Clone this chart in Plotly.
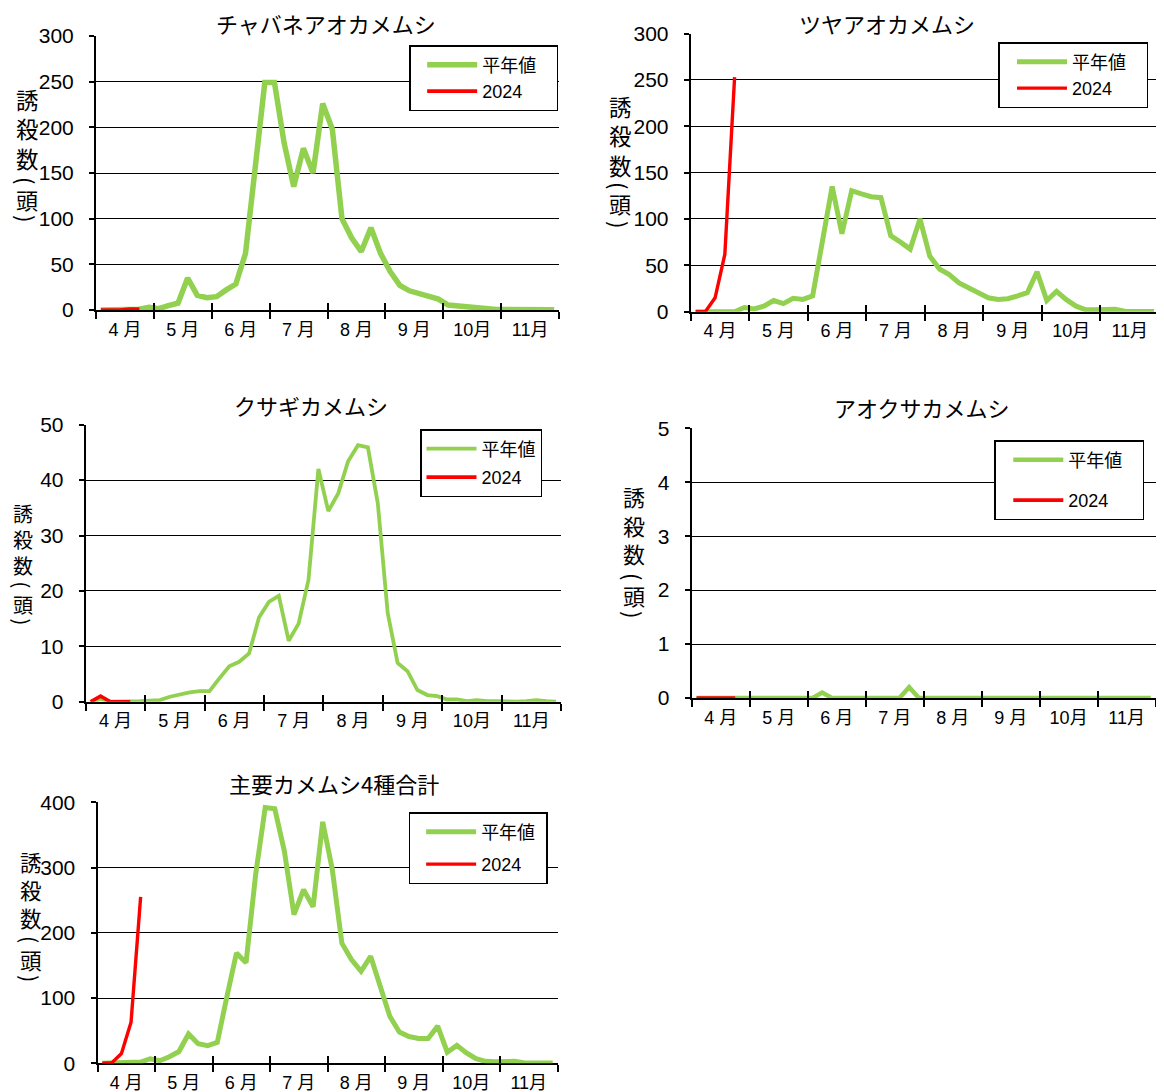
import plotly.graph_objects as go

W, H = 1164, 1092          # browser window
OFF = 8                    # page body margin
FW, FH = W - OFF, H - OFF  # figure size so the figure ends at the window edge

# 半旬 (5-day period) index: 1 = 4月第1半旬 ... 48 = 11月第6半旬
periods = list(range(1, 49))
month_labels = ["4 月", "5 月", "6 月", "7 月", "8 月", "9 月", "10月", "11月"]

# ---------------- data ----------------
chabane_avg = [0, 0.2, 0.3, 0.5, 0.8, 3, 1.5, 4.7, 7.5, 35,
               16, 13.5, 14.6, 22, 28.5, 62, 150, 249, 249, 183,
               135, 177, 150, 226, 198, 100, 79, 64, 90, 62,
               42, 27, 21, 18, 16.5, 12, 5.5, 4.4, 3, 1.5,
               0.8, 0.5, 0.5, 0.5, 0.3, 0.3, 0.2, 0.2]
chabane_2024 = [0, 0, 0, 1, 1]

tsuya_avg = [0, 0, 0, 0, 0, 4.5, 3, 6, 12, 8.7,
             14.4, 13.3, 17, 76, 135, 84, 130.5, 127, 124, 123,
             82, 75, 67.5, 100, 60, 46, 40, 31, 26, 20,
             15, 13.3, 14, 17, 20.5, 43, 12, 22, 13, 6,
             2, 2, 2, 2.5, 0.5, 0.3, 0.3, 0.3]
tsuya_2024 = [0, 0, 15, 62, 253]

kusagi_avg = [0, 0.5, 0, 0, 0, 0.1, 0.2, 0.3, 0.9, 1.3,
              1.7, 1.9, 1.9, 4.2, 6.4, 7.2, 8.7, 15.2, 18, 19.1,
              11, 14.1, 22, 42, 34.4, 37.6, 43.4, 46.3, 45.9, 35.8,
              16, 7, 5.5, 2.1, 1.2, 1, 0.4, 0.4, 0.1, 0.3,
              0.1, 0.1, 0, 0, 0.1, 0.3, 0.1, 0]
kusagi_2024 = [0, 1, 0, 0, 0]

aokusa_avg = [0, 0, 0, 0, 0, 0, 0, 0, 0, 0,
              0, 0, 0, 0.1, 0, 0, 0, 0, 0, 0,
              0, 0, 0.2, 0, 0, 0, 0, 0, 0, 0,
              0, 0, 0, 0, 0, 0, 0, 0, 0, 0,
              0, 0, 0, 0, 0, 0, 0, 0]
aokusa_2024 = [0, 0, 0, 0, 0]

total_avg = [0, 0.3, 0.5, 1, 2, 7, 4, 10, 18, 45,
             30, 27, 32, 102, 169, 154, 289, 392, 390, 325,
             228, 266, 240, 370, 297, 184, 159, 141, 164, 118,
             72, 48, 41, 38, 38, 57, 17, 27.5, 16, 7,
             3, 2.5, 2.5, 3, 1, 0.5, 0.5, 0.5]
total_2024 = [0, 1, 15, 63, 255]

titles = ["チャバネアオカメムシ", "ツヤアオカメムシ", "クサギカメムシ",
          "アオクサカメムシ", "主要カメムシ4種合計"]
y_ranges = [[0, 300], [0, 300], [0, 50], [0, 5], [0, 400]]
y_dticks = [50, 50, 10, 1, 100]
avg_name = "平年値"
cur_name = "2024"
ytitle_main = "誘<br>殺<br>数"
ytitle_parts = ["(", "頭", ")"]

# ---------------- layout helpers ----------------
GREEN = "#92D050"
RED = "#FF0000"
NUM_FONT = "Liberation Sans, Arial, Noto Sans CJK JP"
JP_FONT = "Noto Sans CJK JP, Liberation Sans"

# plot boxes in window pixels: (left, right, top, bottom)
boxes = [(96, 559, 36, 310), (690.7, 1159, 33.5, 311.7), (85.7, 561, 424.7, 701.7),
         (691.7, 1155.6, 428.3, 698), (97.5, 557.5, 802.3, 1063.3)]
title_pos = [(326, 22.5), (887, 23), (311, 405), (922, 407), (334, 783)]
legend_pos = [(409, 45), (998, 42), (420, 429), (994, 440), (408.5, 812)]
legend_gap = [0, 0, 2, 14, 6]
legend_pad = [3, 3, 0, 3, 1]
legend_lpad = [6, 9, 0, 10, 4]     # extra inner space on the legend's left side
green_w = [5.5, 5, 3.8, 4.5, 5]
red_w = [3.6, 3.4, 3.6, 3.6, 3.4]
ytitle_x = [27, 620, 22.5, 634, 31]
ytitle_main_y = [129, 135, 539, 525, 889]
ytitle_main_size = [22.5, 22.5, 20, 22, 21.5]
ytitle_part_ys = [[180, 199, 218], [185, 203, 224], [585, 604, 622],
                  [576, 595, 614], [939, 959, 978]]
ytitle_part_size = [22, 22, 20, 22, 21.5]


def px(x):
    return min(1.0, (x - OFF) / FW)


def py(y):
    return max(0.0, 1 - (y - OFF) / FH)


series = [(chabane_avg, chabane_2024), (tsuya_avg, tsuya_2024),
          (kusagi_avg, kusagi_2024), (aokusa_avg, aokusa_2024),
          (total_avg, total_2024)]

month_centers = [periods[0] + 2.5 + 6 * i for i in range(len(month_labels))]
month_bounds = [periods[0] - 0.5 + 6 * i for i in range(len(month_labels) + 1)]

fig = go.Figure()
layout = dict(
    width=FW, height=FH,
    margin=dict(l=0, r=0, t=0, b=0, pad=0, autoexpand=False),
    paper_bgcolor="white", plot_bgcolor="white",
    showlegend=True,
    annotations=[],
)

for k, (avg, cur) in enumerate(series):
    n = k + 1
    xa = "x" if n == 1 else f"x{n}"
    ya = "y" if n == 1 else f"y{n}"
    lg = "legend" if n == 1 else f"legend{n}"
    fig.add_trace(go.Scatter(
        x=periods, y=avg, mode="lines", name=avg_name + "\u00a0" * legend_pad[k],
        line=dict(color=GREEN, width=green_w[k]), xaxis=xa, yaxis=ya,
        legend=lg, legendgroup=f"g{n}a", cliponaxis=False, hoverinfo="skip"))
    fig.add_trace(go.Scatter(
        x=periods[:len(cur)], y=cur, mode="lines", name=cur_name,
        line=dict(color=RED, width=red_w[k]), xaxis=xa, yaxis=ya,
        legend=lg, legendgroup=f"g{n}b", cliponaxis=False, hoverinfo="skip"))

    l, r, t, b = boxes[k]
    xkey = "xaxis" if n == 1 else f"xaxis{n}"
    ykey = "yaxis" if n == 1 else f"yaxis{n}"
    layout[xkey] = dict(
        domain=[px(l), px(r)], anchor=ya, range=[month_bounds[0], month_bounds[-1]],
        showgrid=False, zeroline=False, showline=True, linecolor="black", linewidth=2,
        tickmode="array", tickvals=month_centers, ticktext=month_labels, ticks="",
        tickfont=dict(family=NUM_FONT, size=18, color="black"),
        ticklabelstandoff=2, automargin=False,
        minor=dict(tickmode="array", tickvals=month_bounds, ticks="outside",
                   ticklen=7, tickwidth=2, tickcolor="black", showgrid=False),
        layer="below traces", fixedrange=True,
    )
    layout[ykey] = dict(
        domain=[py(b), py(t)], anchor=xa, range=y_ranges[k], dtick=y_dticks[k],
        tick0=0, showgrid=True, gridcolor="black", gridwidth=1, zeroline=False,
        showline=True, linecolor="black", linewidth=2, ticks="outside", ticklen=5,
        tickcolor="black", tickwidth=1.5, automargin=False,
        tickfont=dict(family=NUM_FONT, size=21, color="black"),
        ticklabelstandoff=11, layer="below traces", fixedrange=True,
    )
    # overlay axis to draw the inner half of the crossing month ticks
    okey = f"xaxis{n + 5}"
    layout[okey] = dict(
        domain=[px(l), px(r)], anchor=ya, overlaying=xa,
        range=[month_bounds[0], month_bounds[-1]], automargin=False,
        showgrid=False, zeroline=False, showline=False, showticklabels=False,
        tickmode="array", tickvals=month_bounds, ticks="inside", ticklen=7,
        tickwidth=2, tickcolor="black", fixedrange=True,
    )
    lx, ly = legend_pos[k]
    leg = dict(
        x=px(lx), y=py(ly), xanchor="left", yanchor="top",
        bordercolor="black", borderwidth=1.5, bgcolor="white",
        font=dict(family=NUM_FONT, size=18, color="black"),
        traceorder="grouped", tracegroupgap=legend_gap[k], itemwidth=50,
    )
    if legend_lpad[k] > 0:
        leg["title"] = dict(text="\u00a0", side="left",
                            font=dict(family=NUM_FONT, size=legend_lpad[k]))
    layout[lg] = leg
    tx, ty = title_pos[k]
    layout["annotations"].append(dict(
        text=titles[k], x=px(tx), y=py(ty), xref="paper", yref="paper",
        xanchor="center", yanchor="middle", showarrow=False,
        font=dict(family=JP_FONT, size=22, color="black")))
    layout["annotations"].append(dict(
        text=ytitle_main, x=px(ytitle_x[k]), y=py(ytitle_main_y[k]),
        xref="paper", yref="paper", xanchor="center", yanchor="middle",
        showarrow=False,
        font=dict(family=JP_FONT, size=ytitle_main_size[k], color="black")))
    for ch, yy in zip(ytitle_parts, ytitle_part_ys[k]):
        is_paren = ch in "()"
        layout["annotations"].append(dict(
            text=ch, x=px(ytitle_x[k]), y=py(yy), xref="paper", yref="paper",
            xanchor="center", yanchor="middle", showarrow=False,
            textangle=90 if is_paren else 0,
            font=dict(family=JP_FONT, size=ytitle_part_size[k], color="black")))

# invisible traces so the overlay axes get drawn
for k in range(5):
    n = k + 1
    ya = "y" if n == 1 else f"y{n}"
    fig.add_trace(go.Scatter(x=[None], y=[None], xaxis=f"x{n + 5}", yaxis=ya,
                             showlegend=False, hoverinfo="skip"))

fig.update_layout(**layout)
fig.write_html("out.html")
